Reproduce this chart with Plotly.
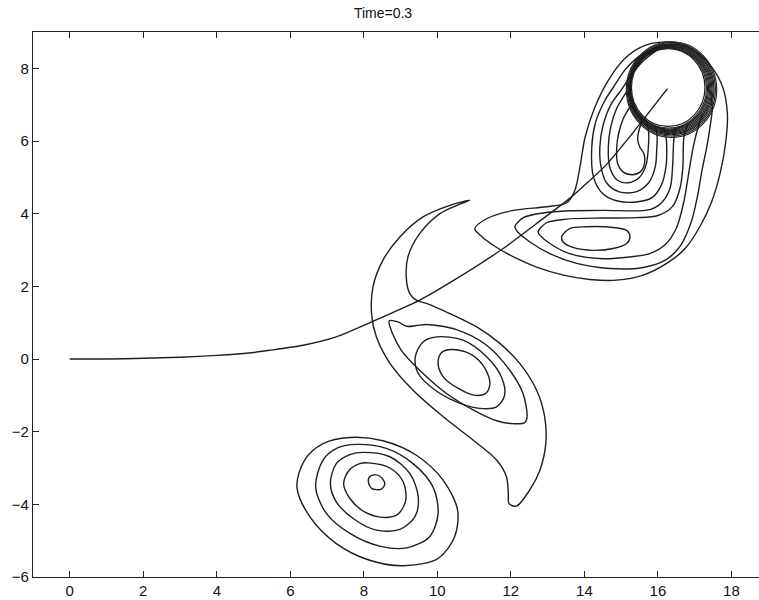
import plotly.graph_objects as go

TITLE = "Time=0.3"
X_TICKS = [0, 2, 4, 6, 8, 10, 12, 14, 16, 18]
Y_TICKS = [-6, -4, -2, 0, 2, 4, 6, 8]

# trajectory of the body
TRAJ_X = [0, 1, 2, 3, 4, 5, 5.44, 6.35, 7.25, 8.21, 9.52, 10.52, 11.79, 12.70, 13.6, 14.6, 15.3, 16.26]
TRAJ_Y = [0, 0.0, 0.02, 0.05, 0.1, 0.18, 0.24, 0.38, 0.61, 1.02, 1.62, 2.21, 3.04, 3.73, 4.42, 5.35, 6.2, 7.44]

# body (circle)
CIRCLE_CX = 16.28
CIRCLE_CY = 7.47
CIRCLE_RX = 1.0
CIRCLE_RY = 1.07
# densely packed contour lines hugging the body
BAND_SCALE = [1.03, 1.05, 1.07, 1.09, 1.11, 1.13, 1.15, 1.17, 1.20, 1.23]
BAND_DX = [0.01, 0.02, 0.03, 0.04, 0.05, 0.06, 0.07, 0.08, 0.085, 0.09]
BAND_DY = [-0.01, -0.015, -0.02, -0.025, -0.03, -0.035, -0.04, -0.045, -0.05, -0.055]

# lower vortex
B1_X = [8.12, 8.21, 8.43, 8.57, 8.48, 8.21, 8.12]
B1_Y = [-3.33, -3.20, -3.22, -3.43, -3.58, -3.56, -3.33]
B2_X = [8.12, 8.71, 9.07, 9.14, 8.93, 8.52, 8.02, 7.62, 7.45, 7.60, 7.89, 8.12]
B2_Y = [-2.86, -3.00, -3.38, -3.89, -4.27, -4.36, -4.21, -3.84, -3.43, -3.06, -2.88, -2.86]
B3_X = [7.98, 8.71, 9.25, 9.48, 9.39, 8.98, 8.34, 7.71, 7.25, 7.09, 7.25, 7.62, 7.98]
B3_Y = [-2.57, -2.69, -3.15, -3.79, -4.34, -4.69, -4.71, -4.39, -3.93, -3.43, -2.88, -2.63, -2.57]
B4_X = [7.80, 8.61, 9.34, 9.88, 10.02, 9.79, 9.16, 8.43, 7.62, 6.98, 6.69, 6.89, 7.30, 7.80]
B4_Y = [-2.35, -2.46, -2.88, -3.52, -4.25, -4.89, -5.20, -5.15, -4.80, -4.25, -3.52, -2.78, -2.44, -2.35]
B5_X = [7.62, 8.52, 9.43, 10.16, 10.55, 10.47, 10.02, 9.07, 8.16, 7.25, 6.53, 6.18, 6.39, 6.89, 7.62]
B5_Y = [-2.16, -2.25, -2.65, -3.34, -4.16, -4.89, -5.49, -5.69, -5.54, -5.08, -4.34, -3.52, -2.78, -2.33, -2.16]

# middle vortex
M1_X = [10.38, 10.88, 11.24, 11.43, 11.34, 11.02, 10.57, 10.16, 10.02, 10.11, 10.38]
M1_Y = [0.26, 0.15, -0.17, -0.63, -0.93, -1.00, -0.81, -0.49, -0.12, 0.17, 0.26]
M2_X = [9.98, 10.70, 11.34, 11.74, 11.83, 11.61, 11.15, 10.52, 9.88, 9.48, 9.40, 9.61, 9.98]
M2_Y = [0.61, 0.52, 0.06, -0.49, -1.00, -1.32, -1.36, -1.18, -0.81, -0.40, 0.06, 0.47, 0.61]
M3_X = [8.69, 8.93, 9.16, 9.43, 9.70, 10.52, 11.34, 11.97, 12.33, 12.44, 12.38, 12.06, 11.61, 11.06, 10.25, 9.52, 9.02, 8.78, 8.69]
M3_Y = [1.05, 1.02, 0.90, 0.92, 0.95, 0.81, 0.38, -0.31, -0.95, -1.59, -1.75, -1.78, -1.70, -1.45, -0.95, -0.31, 0.24, 0.70, 1.05]
M4_X = [10.88, 10.34, 9.61, 8.98, 8.52, 8.25, 8.21, 8.34, 8.71, 9.34, 10.16, 10.97, 11.61, 11.88, 11.93, 11.95, 12.15,
        12.51, 12.79, 12.95, 12.92, 12.70, 12.24, 11.70, 11.06, 10.34, 9.70, 9.43, 9.25, 9.16, 9.20, 9.52, 10.07, 10.61, 10.88]
M4_Y = [4.37, 4.23, 3.91, 3.36, 2.72, 1.99, 1.25, 0.61, -0.12, -0.86, -1.59, -2.23, -2.78, -3.24, -3.70, -3.98, -4.05,
        -3.61, -3.06, -2.33, -1.59, -0.86, -0.12, 0.43, 0.89, 1.25, 1.53, 1.62, 1.80, 2.17, 2.81, 3.45, 4.00, 4.26, 4.37]

# wake of the body
T1_X = [11.02, 11.34, 12.07, 12.97, 13.52, 13.74, 13.88, 14.02, 14.29, 14.65, 15.10, 15.60, 16.10, 16.60, 17.05, 17.46,
        17.76, 17.89, 17.84, 17.69, 17.46, 17.14, 16.74, 16.24, 15.60, 14.88, 14.15, 13.43, 12.70, 12.07, 11.52, 11.16, 11.02]
T1_Y = [3.59, 3.86, 4.09, 4.19, 4.30, 4.64, 5.29, 6.11, 6.94, 7.67, 8.27, 8.61, 8.72, 8.68, 8.45, 8.04,
        7.49, 6.75, 5.93, 5.10, 4.32, 3.64, 3.04, 2.63, 2.31, 2.17, 2.19, 2.31, 2.53, 2.81, 3.13, 3.41, 3.59]
T2_X = [16.52, 16.44, 16.42, 16.40, 16.33, 16.10, 15.78, 14.51, 13.60, 12.88, 12.34, 12.11, 12.15, 12.52, 13.06, 13.79,
        14.69, 15.60, 16.20, 16.60, 16.90, 17.08, 17.20, 17.33, 17.42, 17.48, 17.45]
T2_Y = [6.36, 6.10, 5.83, 5.30, 4.70, 4.30, 4.11, 4.09, 4.08, 4.02, 3.89, 3.65, 3.54, 3.22, 2.90, 2.63,
        2.49, 2.52, 2.72, 3.10, 3.75, 4.50, 5.20, 5.83, 6.40, 6.90, 7.20]
T3_X = [16.84, 16.72, 16.69, 16.68, 16.60, 16.40, 16.00, 15.40, 14.51, 13.51, 12.97, 12.74, 12.79, 13.06, 13.60, 14.51,
        15.24, 15.78, 16.20, 16.50, 16.70, 16.82, 16.96, 17.10, 17.22]
T3_Y = [6.50, 6.20, 5.83, 5.30, 4.70, 4.20, 3.95, 3.89, 3.88, 3.85, 3.75, 3.50, 3.41, 3.18, 2.90, 2.76,
        2.81, 2.90, 3.15, 3.60, 4.30, 5.00, 5.83, 6.40, 6.75]
L1_X = [13.38, 13.60, 14.06, 14.78, 15.15, 15.24, 15.15, 14.78, 14.24, 13.69, 13.42, 13.38]
L1_Y = [3.36, 3.59, 3.64, 3.62, 3.54, 3.36, 3.18, 3.04, 2.99, 3.07, 3.22, 3.36]
C1_X = [16.15, 16.22, 16.24, 16.22, 16.10, 15.85, 15.40, 14.90, 14.50, 14.25, 14.20, 14.30, 14.55, 14.80, 15.10, 15.45, 15.85, 16.20]
C1_Y = [6.36, 6.10, 5.83, 5.30, 4.80, 4.45, 4.32, 4.35, 4.55, 5.00, 5.83, 6.50, 7.10, 7.50, 7.95, 8.30, 8.52, 8.62]
C2_X = [15.92, 15.98, 15.97, 15.93, 15.75, 15.40, 14.95, 14.60, 14.45, 14.42, 14.50, 14.72, 15.00, 15.30, 15.65, 15.95]
C2_Y = [6.45, 6.10, 5.83, 5.30, 4.85, 4.60, 4.60, 4.85, 5.30, 5.83, 6.40, 7.00, 7.40, 7.85, 8.25, 8.48]
C3_X = [15.70, 15.75, 15.74, 15.68, 15.50, 15.20, 14.90, 14.70, 14.65, 14.72, 14.88, 15.05, 15.15]
C3_Y = [6.55, 6.20, 5.83, 5.35, 5.00, 4.85, 4.92, 5.25, 5.83, 6.40, 6.90, 7.20, 7.35]
U_X = [15.28, 15.05, 14.93, 14.88, 14.90, 15.05, 15.30, 15.52, 15.64, 15.62, 15.51, 15.45, 15.50, 15.60]
U_Y = [7.00, 6.60, 6.20, 5.83, 5.40, 5.15, 5.07, 5.15, 5.40, 5.65, 5.83, 6.05, 6.35, 6.60]

CONTOURS = [
    (B1_X, B1_Y), (B2_X, B2_Y), (B3_X, B3_Y), (B4_X, B4_Y), (B5_X, B5_Y),
    (M1_X, M1_Y), (M2_X, M2_Y), (M3_X, M3_Y), (M4_X, M4_Y),
    (T1_X, T1_Y), (T2_X, T2_Y), (T3_X, T3_Y), (L1_X, L1_Y),
    (C1_X, C1_Y), (C2_X, C2_Y), (C3_X, C3_Y), (U_X, U_Y),
]

LINE_COLOR = "#1e1e1e"

fig = go.Figure()
for cx, cy in CONTOURS:
    fig.add_trace(go.Scatter(x=cx, y=cy, mode="lines",
                             line=dict(color=LINE_COLOR, width=1.4, shape="spline", smoothing=0.9),
                             hoverinfo="skip"))

fig.add_trace(go.Scatter(x=TRAJ_X, y=TRAJ_Y, mode="lines",
                         line=dict(color=LINE_COLOR, width=1.4, shape="spline", smoothing=0.6),
                         hoverinfo="skip"))

shapes = []
for s, dx, dy in zip(BAND_SCALE, BAND_DX, BAND_DY):
    shapes.append(dict(type="circle", xref="x", yref="y",
                       x0=CIRCLE_CX + dx - CIRCLE_RX * s, x1=CIRCLE_CX + dx + CIRCLE_RX * s,
                       y0=CIRCLE_CY + dy - CIRCLE_RY * s, y1=CIRCLE_CY + dy + CIRCLE_RY * s,
                       line=dict(color=LINE_COLOR, width=1.1), layer="above"))
shapes.append(dict(type="circle", xref="x", yref="y",
                   x0=CIRCLE_CX - CIRCLE_RX, x1=CIRCLE_CX + CIRCLE_RX,
                   y0=CIRCLE_CY - CIRCLE_RY, y1=CIRCLE_CY + CIRCLE_RY,
                   line=dict(color=LINE_COLOR, width=1.2), layer="above"))

fig.update_layout(
    width=759, height=600,
    margin=dict(l=33, r=0, t=32, b=23),
    paper_bgcolor="white", plot_bgcolor="white",
    showlegend=False,
    hovermode=False,
    shapes=shapes,
    font=dict(family="Liberation Sans, Arial, Helvetica, sans-serif", size=15, color="#111111"),
    title=dict(text=TITLE, x=383 / 759, xref="container", xanchor="center",
               y=1 - 13 / 600, yref="container", yanchor="middle",
               font=dict(size=14, color="#111111")),
)
fig.update_xaxes(range=[-1, 18.75], tickvals=X_TICKS, ticks="inside", ticklen=6, tickcolor="#222222",
                 showline=True, linecolor="#222222", linewidth=1.2, mirror="ticks",
                 showgrid=False, zeroline=False, automargin=False)
fig.update_yaxes(range=[-6, 9], tickvals=Y_TICKS, ticks="inside", ticklen=6, tickcolor="#222222",
                 showline=True, linecolor="#222222", linewidth=1.2, mirror=False,
                 showgrid=False, zeroline=False, automargin=False)

fig.write_html("out.html", config={"displayModeBar": False, "staticPlot": True},
               post_script="document.body.style.margin='0';document.body.style.overflow='hidden';")
